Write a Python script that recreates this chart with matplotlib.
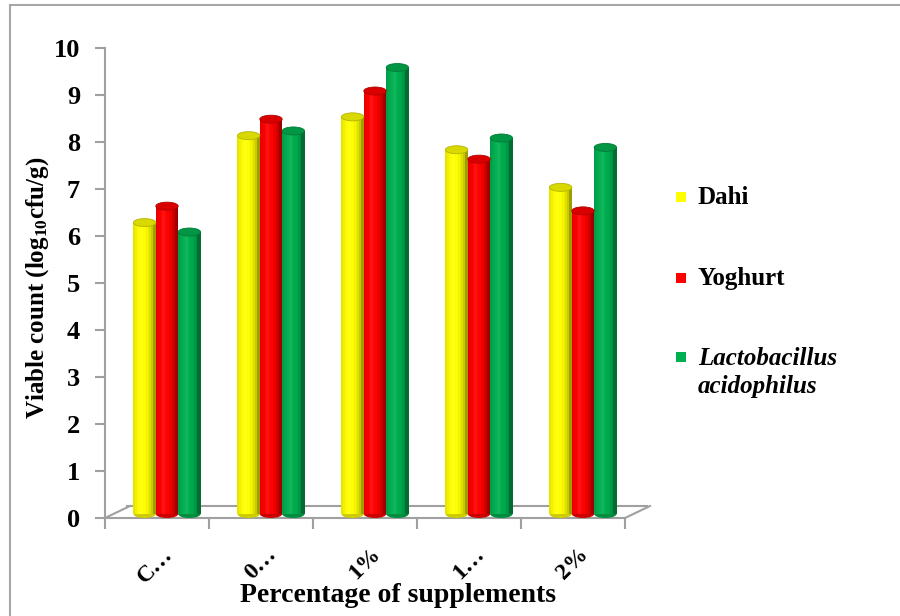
import numpy as np
import matplotlib
matplotlib.use("Agg")
import matplotlib.pyplot as plt
from matplotlib.patches import Ellipse, Rectangle
from matplotlib.lines import Line2D
from matplotlib.transforms import offset_copy
from matplotlib.colors import to_rgb

plt.rcParams['font.family'] = ['Liberation Serif', 'DejaVu Serif']
plt.rcParams['font.weight'] = 'bold'
plt.rcParams['mathtext.fontset'] = 'custom'
plt.rcParams['mathtext.rm'] = 'Liberation Serif:bold'
plt.rcParams['mathtext.default'] = 'rm'

# data
categories = ['C…', '0…', '1%', '1…', '2%']
dahi = [6.2, 8.05, 8.45, 7.75, 6.95]
yoghurt = [6.55, 8.4, 9.0, 7.55, 6.45]
lacto = [6.0, 8.15, 9.5, 8.0, 7.8]
series_names = ['Dahi', 'Yoghurt', 'Lactobacillus\nacidophilus']
series_colors = ['#FFFF00', '#FF0000', '#00B050']

W, H = 900, 616
fig = plt.figure(figsize=(9, 6.16), dpi=100)
ax = fig.add_axes([105 / W, 1 - 518 / H, 520 / W, 470 / H])
ax.set_xlim(-0.5, 4.5)
ax.set_ylim(0, 10)

grey = '#A0A0A0'
for s in ['top', 'right']:
    ax.spines[s].set_visible(False)
ax.spines['left'].set_color(grey)
ax.spines['left'].set_linewidth(1.5)
ax.spines['bottom'].set_color(grey)
ax.spines['bottom'].set_linewidth(1.5)

ax.set_yticks(range(0, 11))
ax.tick_params(axis='y', direction='out', length=7, width=1.5, color=grey,
               labelsize=19, pad=11)
ax.set_xticks(np.arange(-0.5, 5, 1))
ax.set_xticklabels([])
ax.tick_params(axis='x', direction='out', length=8, width=1.5, color=grey)

# 3d floor behind the bars
back = offset_copy(ax.transData, fig=fig, x=22, y=12, units='dots')
ax.plot([-0.5, 4.5], [0, 0], transform=back, color=grey, lw=1.5, zorder=1, clip_on=False)
p0 = ax.transData.transform([(-0.5, 0), (4.5, 0)])
p1 = back.transform([(-0.5, 0), (4.5, 0)])
for a, b in zip(p0, p1):
    fig.add_artist(Line2D([a[0] / W, (b[0] + 3) / W], [a[1] / H, b[1] / H],
                          transform=fig.transFigure, color=grey, lw=1.5))

# cylinder bars
bar_trans = offset_copy(ax.transData, fig=fig, x=10, y=4, units='dots')
width = 0.215
nslice = 14
x = np.arange(len(categories))
for k, (vals, col) in enumerate(zip([dahi, yoghurt, lacto], series_colors)):
    base = np.array(to_rgb(col))
    for i, v in enumerate(vals):
        cx = x[i] + (k - 1) * width
        left = cx - width / 2
        ax.add_patch(Ellipse((cx, 0), width, 0.17, facecolor=base * 0.8,
                             edgecolor='none', transform=bar_trans, zorder=3))
        for j in range(nslice):
            t = (j + 0.5) / nslice * 2 - 1
            shade = 0.62 + 0.38 * np.sqrt(1 - (t + 0.25) ** 2 if abs(t + 0.25) < 1 else 0)
            c = np.clip(base * shade + (1 - base) * 0.08 * max(0, 1 - abs(t + 0.3) * 3), 0, 1)
            ax.add_patch(Rectangle((left + j * width / nslice, 0), width / nslice * 1.05, v,
                                   facecolor=c, edgecolor='none', transform=bar_trans,
                                   zorder=4, clip_on=False))
        ax.add_patch(Ellipse((cx, v), width, 0.17, facecolor=base * 0.85,
                             edgecolor=base * 0.7, lw=0.6, transform=bar_trans,
                             zorder=5, clip_on=False))

# category labels
lab_trans = offset_copy(ax.get_xaxis_transform(), fig=fig, x=5, y=0, units='dots')
for i, lab in enumerate(categories):
    ax.text(x[i], -0.055, lab, transform=lab_trans, rotation=45, rotation_mode='anchor',
            ha='right', va='top', fontsize=17, fontweight='bold')

fig.text(398 / W, 1 - 595 / H, 'Percentage of supplements', ha='center', va='center',
         fontsize=20, fontweight='bold')
fig.text(38 / W, 1 - 288 / H, 'Viable count (log$_{10}$cfu/g)', rotation=90,
         ha='center', va='center', fontsize=18, fontweight='bold')

# legend
leg_y = [197, 278, 357]
for name, col, yy in zip(series_names, series_colors, leg_y):
    fig.add_artist(Rectangle((676 / W, 1 - (yy + 5) / H), 10 / W, 10 / H,
                             facecolor=col, edgecolor='none', transform=fig.transFigure))
    if '\n' in name:
        fig.text(698 / W, 1 - (yy - 10) / H, name, ha='left', va='top', fontsize=18,
                 fontweight='bold', fontstyle='italic', linespacing=1.3)
    else:
        fig.text(698 / W, 1 - yy / H, name, ha='left', va='center', fontsize=18,
                 fontweight='bold')

# outer frame
fig.add_artist(Line2D([10 / W, 10 / W], [0, 1 - 5 / H], transform=fig.transFigure,
                      color='#A6A6A6', lw=1.5))
fig.add_artist(Line2D([10 / W, 1], [1 - 5 / H, 1 - 5 / H], transform=fig.transFigure,
                      color='#A6A6A6', lw=1.5))

fig.savefig('out.png', dpi=100)
